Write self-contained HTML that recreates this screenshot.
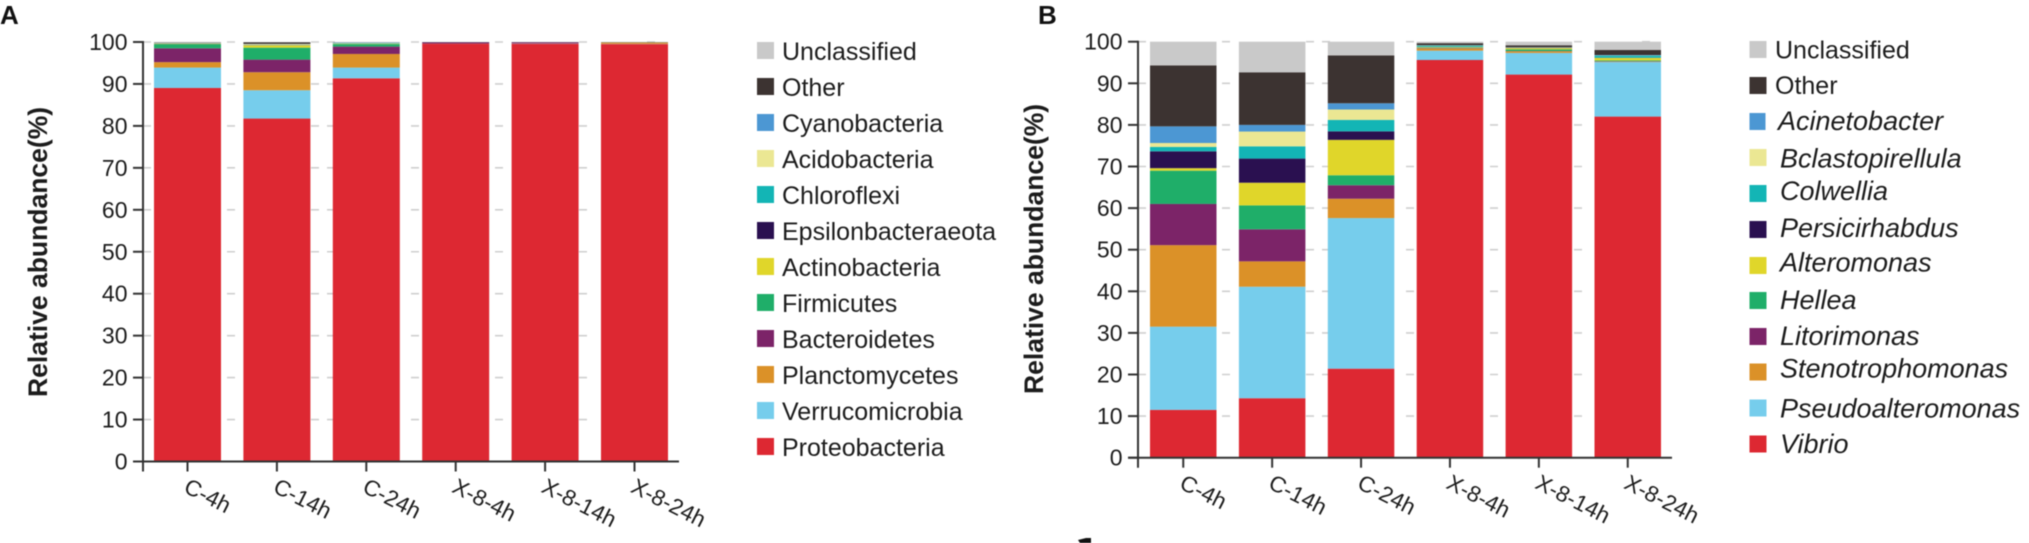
<!DOCTYPE html>
<html lang="en">
<head>
<meta charset="utf-8">
<title>Relative abundance charts</title>
<style>
html,body{margin:0;padding:0;background:#fff;width:2029px;height:543px;overflow:hidden}
svg{display:block;filter:blur(0.45px)}
text{font-family:"Liberation Sans",sans-serif;fill:#1c1c1c}
.lg{font-size:25px}
.lgi{font-size:27px;font-style:italic}
.title{font-size:26.5px;font-weight:bold}
.panel{font-size:26px;font-weight:bold;fill:#111}
</style>
</head>
<body>
<svg id="figure" width="2029" height="543" viewBox="0 0 2029 543" xmlns="http://www.w3.org/2000/svg">
  <rect width="2029" height="543" fill="#fff"/>
  <text class="panel" x="0" y="24">A</text>
  <text class="panel" x="1038" y="24">B</text>
  <text class="title" transform="translate(47 397) rotate(-90)">Relative abundance(%)</text>
  <text class="title" transform="translate(1043 394) rotate(-90)">Relative abundance(%)</text>
  <g id="chartA"></g>
  <g id="chartB"></g>

  <g>
    <g><rect x="757" y="42" width="17" height="17" fill="#c9c9c9"/><text class="lg" x="782" y="60">Unclassified</text></g>
    <g><rect x="757" y="78" width="17" height="17" fill="#3c3331"/><text class="lg" x="782" y="96">Other</text></g>
    <g><rect x="757" y="114" width="17" height="17" fill="#4c97d3"/><text class="lg" x="782" y="132">Cyanobacteria</text></g>
    <g><rect x="757" y="150" width="17" height="17" fill="#ebe793"/><text class="lg" x="782" y="168">Acidobacteria</text></g>
    <g><rect x="757" y="186" width="17" height="17" fill="#13b5b5"/><text class="lg" x="782" y="204">Chloroflexi</text></g>
    <g><rect x="757" y="222" width="17" height="17" fill="#2a1050"/><text class="lg" x="782" y="240">Epsilonbacteraeota</text></g>
    <g><rect x="757" y="258" width="17" height="17" fill="#e0d62a"/><text class="lg" x="782" y="276">Actinobacteria</text></g>
    <g><rect x="757" y="294" width="17" height="17" fill="#1fae69"/><text class="lg" x="782" y="312">Firmicutes</text></g>
    <g><rect x="757" y="330" width="17" height="17" fill="#7c2468"/><text class="lg" x="782" y="348">Bacteroidetes</text></g>
    <g><rect x="757" y="366" width="17" height="17" fill="#db9128"/><text class="lg" x="782" y="384">Planctomycetes</text></g>
    <g><rect x="757" y="402" width="17" height="17" fill="#76cdec"/><text class="lg" x="782" y="420">Verrucomicrobia</text></g>
    <g><rect x="757" y="438" width="17" height="17" fill="#dd2832"/><text class="lg" x="782" y="456">Proteobacteria</text></g>
  </g>

  <g>
    <g><rect x="1749.5" y="41" width="17" height="17" fill="#c9c9c9"/><text class="lg" x="1775" y="58.5">Unclassified</text></g>
    <g><rect x="1749.5" y="77" width="17" height="17" fill="#3c3331"/><text class="lg" x="1775" y="94">Other</text></g>
    <g><rect x="1749.5" y="113" width="16" height="17" fill="#4c97d3"/><text class="lgi" x="1778" y="130">Acinetobacter</text></g>
    <g><rect x="1749.5" y="149" width="17" height="17" fill="#ebe793"/><text class="lgi" x="1780" y="167.5">Bclastopirellula</text></g>
    <g><rect x="1749.5" y="185" width="17" height="17" fill="#13b5b5"/><text class="lgi" x="1780" y="200">Colwellia</text></g>
    <g><rect x="1749.5" y="221" width="17" height="17" fill="#2a1050"/><text class="lgi" x="1780" y="237">Persicirhabdus</text></g>
    <g><rect x="1749.5" y="257" width="17" height="17" fill="#e0d62a"/><text class="lgi" x="1780" y="271.5">Alteromonas</text></g>
    <g><rect x="1749.5" y="292" width="17" height="17" fill="#1fae69"/><text class="lgi" x="1780" y="309">Hellea</text></g>
    <g><rect x="1749.5" y="328" width="17" height="17" fill="#7c2468"/><text class="lgi" x="1780" y="345">Litorimonas</text></g>
    <g><rect x="1749.5" y="363.5" width="17" height="17" fill="#db9128"/><text class="lgi" x="1780" y="377.5">Stenotrophomonas</text></g>
    <g><rect x="1749.5" y="399.5" width="17" height="17" fill="#76cdec"/><text class="lgi" x="1780" y="417.5">Pseudoalteromonas</text></g>
    <g><rect x="1749.5" y="435.5" width="17" height="17" fill="#dd2832"/><text class="lgi" x="1780" y="453">Vibrio</text></g>
  </g>

  <path d="M1078 540 L1086 538 L1091 538 L1091 543 L1080 543 Z" fill="#111"/>
</svg>

<script>
const categories = ["C-4h", "C-14h", "C-24h", "X-8-4h", "X-8-14h", "X-8-24h"];
const yTickValues = [0, 10, 20, 30, 40, 50, 60, 70, 80, 90, 100];
const seriesColors = ["#dd2832", "#76cdec", "#db9128", "#7c2468", "#1fae69", "#e0d62a", "#2a1050", "#13b5b5", "#ebe793", "#4c97d3", "#3c3331", "#c9c9c9"];

const phylumNames = ["Proteobacteria", "Verrucomicrobia", "Planctomycetes", "Bacteroidetes", "Firmicutes", "Actinobacteria", "Epsilonbacteraeota", "Chloroflexi", "Acidobacteria", "Cyanobacteria", "Other", "Unclassified"];
const proteobacteria = [89.05, 81.75, 91.35, 99.6, 99.6, 99.5];
const verrucomicrobia = [4.85, 6.75, 2.55, 0, 0.05, 0.05];
const planctomycetes = [1.3, 4.3, 3.25, 0.02, 0.03, 0.3];
const bacteroidetes = [3.3, 3, 1.75, 0.3, 0.25, 0.05];
const firmicutes = [1, 2.85, 0.6, 0.02, 0.02, 0.05];
const actinobacteria = [0.1, 0.55, 0.1, 0, 0, 0.02];
const epsilonbacteraeota = [0.05, 0.05, 0.02, 0.02, 0.02, 0];
const chloroflexi = [0.05, 0.05, 0.1, 0, 0, 0];
const acidobacteria = [0.1, 0.2, 0.08, 0, 0, 0];
const cyanobacteria = [0.05, 0.05, 0.1, 0, 0, 0];
const otherPhylum = [0.1, 0.4, 0.05, 0.04, 0.03, 0.03];
const unclassifiedPhylum = [0.05, 0.05, 0.05, 0, 0, 0];

const genusNames = ["Vibrio", "Pseudoalteromonas", "Stenotrophomonas", "Litorimonas", "Hellea", "Alteromonas", "Persicirhabdus", "Colwellia", "Bclastopirellula", "Acinetobacter", "Other", "Unclassified"];
const vibrio = [11.5, 14.3, 21.4, 95.6, 92.1, 82];
const pseudoalteromonas = [20, 26.8, 36.2, 2.25, 5.2, 13.1];
const stenotrophomonas = [19.6, 6.1, 4.65, 0.5, 0.4, 0.1];
const litorimonas = [9.9, 7.7, 3.25, 0.1, 0.05, 0.1];
const hellea = [8, 5.75, 2.4, 0.1, 0.4, 0.2];
const alteromonas = [0.6, 5.45, 8.5, 0.15, 0.3, 0.6];
const persicirhabdus = [4.05, 5.8, 2.05, 0.05, 0.05, 0.05];
const colwellia = [1.05, 2.95, 2.75, 0.3, 0.05, 0.5];
const bclastopirellula = [0.95, 3.55, 2.5, 0.05, 0.05, 0.05];
const acinetobacter = [4, 1.6, 1.5, 0.05, 0.05, 0.1];
const otherGenus = [14.65, 12.65, 11.5, 0.5, 0.5, 1.2];
const unclassifiedGenus = [5.7, 7.35, 3.3, 0.35, 0.85, 2];

const phylumSeries = [proteobacteria, verrucomicrobia, planctomycetes, bacteroidetes, firmicutes, actinobacteria, epsilonbacteraeota, chloroflexi, acidobacteria, cyanobacteria, otherPhylum, unclassifiedPhylum];
const genusSeries = [vibrio, pseudoalteromonas, stenotrophomonas, litorimonas, hellea, alteromonas, persicirhabdus, colwellia, bclastopirellula, acinetobacter, otherGenus, unclassifiedGenus];

const NS = "http://www.w3.org/2000/svg";
function mk(parent, tag, attrs, txt) {
  const el = document.createElementNS(NS, tag);
  for (const k in attrs) el.setAttribute(k, attrs[k]);
  if (txt !== undefined) el.textContent = txt;
  parent.appendChild(el);
  return el;
}
function slug(s) { return s.toLowerCase().replace(/[^a-z0-9]+/g, "-"); }

function drawChart(root, names, series, frame) {
  const yOf = v => frame.y0 - v * frame.pxPerUnit;
  const barLeft = i => frame.barStart + i * frame.barStep;
  const barCenter = i => barLeft(i) + frame.barWidth / 2;
  const maxTick = yTickValues[yTickValues.length - 1];

  yTickValues.forEach(t => {
    if (t === 0) return;
    const grid = mk(root, "line", {x1: frame.axisX, x2: frame.axisX + 540, y1: yOf(t), y2: yOf(t), stroke: "#cfcfcf", "stroke-width": 1.6, "stroke-dasharray": "8 76 8 76 8 8 8 76 8 76 8 76 8 60 8 400"});
    
    
  });

  names.forEach((name, s) => {
    categories.forEach((cat, i) => {
      let base = 0;
      for (let k = 0; k < s; k++) base += series[k][i];
      const v = series[s][i];
      if (v <= 0) return;
      const r = mk(root, "rect", {x: barLeft(i), width: frame.barWidth, y: yOf(base + v), height: v * frame.pxPerUnit, fill: seriesColors[s]});
      
      
    });
  });

  const yAxis = mk(root, "line", {x1: frame.axisX, x2: frame.axisX, y1: yOf(maxTick) - 1, y2: frame.y0 + 10, stroke: "#333", "stroke-width": 2});
  
  
  const xAxis = mk(root, "line", {x1: frame.axisX - 10, x2: barLeft(categories.length - 1) + frame.barWidth + 11, y1: frame.y0, y2: frame.y0, stroke: "#333", "stroke-width": 2});
  
  

  yTickValues.forEach(t => {
    const tick = mk(root, "line", {x1: frame.axisX - 10, x2: frame.axisX, y1: yOf(t), y2: yOf(t), stroke: "#333", "stroke-width": 2});
    
    
    const label = mk(root, "text", {x: frame.axisX - 15.5, y: yOf(t) + 8, "text-anchor": "end", "font-size": 23}, String(t));
    
    
  });

  categories.forEach((cat, i) => {
    const cx = barCenter(i);
    const tick = mk(root, "line", {x1: cx, x2: cx, y1: frame.y0, y2: frame.y0 + 10, stroke: "#333", "stroke-width": 2});
    
    
    const lx = cx - 5;
    const ly = frame.y0 + 30;
    const label = mk(root, "text", {x: lx, y: ly, "font-size": 22.5, transform: "rotate(27 " + lx + " " + ly + ")"}, cat);
    
    
  });
}

drawChart(document.getElementById("chartA"), phylumNames, phylumSeries, {axisX: 143, y0: 461.5, pxPerUnit: 4.195, barStart: 154, barStep: 89.4, barWidth: 67});
drawChart(document.getElementById("chartB"), genusNames, genusSeries, {axisX: 1138, y0: 457.7, pxPerUnit: 4.16, barStart: 1150, barStep: 88.9, barWidth: 66.5});
</script>
</body>
</html>
